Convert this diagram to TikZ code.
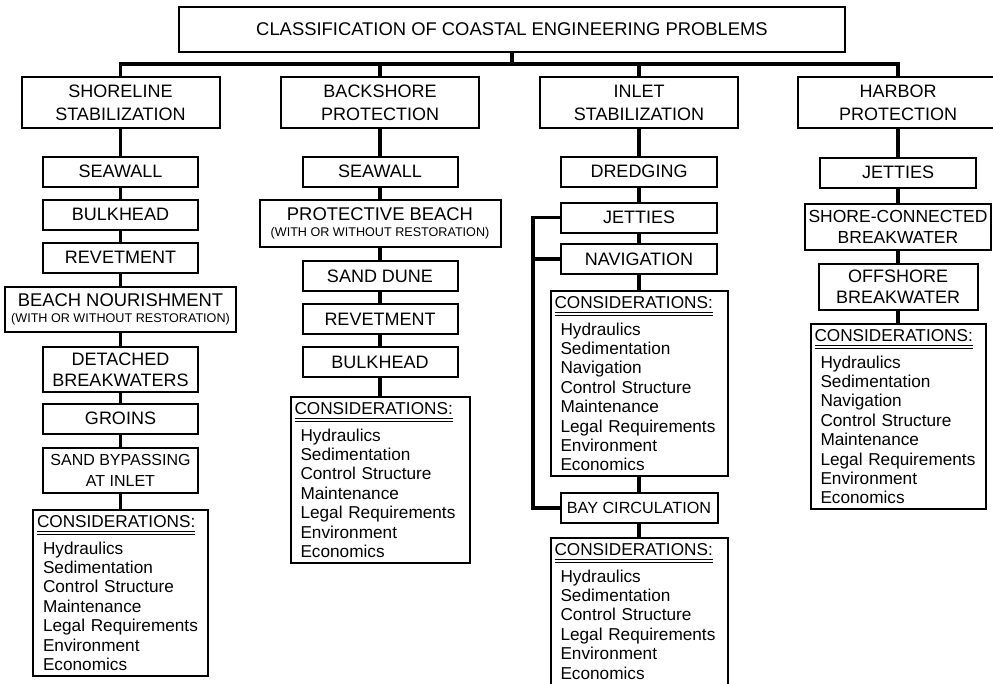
\documentclass[tikz,border=0pt]{standalone}
\usepackage{fontspec}
\setmainfont{Liberation Sans}
% double underline for the considerations header
\newcommand{\dbul}[1]{\setbox0=\hbox{#1}%
  \rlap{\smash{\rule[-4.6pt]{\wd0}{0.9pt}}}%
  \rlap{\smash{\rule[-8pt]{\wd0}{0.9pt}}}\box0}
\newcommand{\conshead}{\dbul{CONSIDERATIONS:}\\[7.6pt]\hspace*{6pt}}
\newcommand{\itm}{\\\hspace*{6pt}}

\begin{document}
\begin{tikzpicture}[x=1pt,y=-1pt,
  box/.style={draw,line width=2pt,align=center,inner sep=0pt},
  head/.style={box,minimum width=198pt,minimum height=51pt,
    font=\fontsize{18}{23}\selectfont},
  item/.style={box,minimum width=155pt,minimum height=30pt,
    font=\fontsize{18}{21}\selectfont},
  cons/.style={draw,line width=2pt,anchor=north,align=left,
    inner xsep=4pt,inner ysep=5pt,font=\fontsize{17.2}{19.4}\selectfont},
  link/.style={line width=3.2pt}]
  \useasboundingbox (0,0) rectangle (993,683);

  \node[box,minimum width=666pt,minimum height=45pt,
    font=\fontsize{18.4}{23}\selectfont] (top) at (512,29.5)
    {CLASSIFICATION OF COASTAL ENGINEERING PROBLEMS};
  \coordinate (bus) at (512,64);

  % shoreline stabilization
  \node[head] (shore) at (120.5,102.5) {SHORELINE\\STABILIZATION};
  \node[item] (s1) at (120.5,171.5) {SEAWALL};
  \node[item] (s2) at (120.5,214.5) {BULKHEAD};
  \node[item] (s3) at (120.5,257.5) {REVETMENT};
  \node[item,minimum width=231pt,minimum height=45pt,
    font=\fontsize{18.4}{15.5}\selectfont] (s4) at (120.5,309.5)
    {BEACH NOURISHMENT\\{\fontsize{12.6}{15.5}\selectfont(WITH OR WITHOUT RESTORATION)}};
  \node[item,minimum height=45pt] (s5) at (120.5,369.5) {DETACHED\\BREAKWATERS};
  \node[item] (s6) at (120.5,418.5) {GROINS};
  \node[item,minimum height=45pt,font=\fontsize{16}{21}\selectfont] (s7)
    at (120.5,470.5) {SAND BYPASSING\\AT INLET};
  \node[cons,text width=167pt] (s8) at (120.5,509) {\conshead Hydraulics\itm
    Sedimentation\itm Control Structure\itm Maintenance\itm
    Legal Requirements\itm Environment\itm Economics};

  % backshore protection
  \node[head] (back) at (380,102.5) {BACKSHORE\\PROTECTION};
  \node[item] (b1) at (380,171.5) {SEAWALL};
  \node[item,minimum width=241pt,minimum height=47pt,
    font=\fontsize{18.4}{15.5}\selectfont] (b2) at (380,223.5)
    {PROTECTIVE BEACH\\{\fontsize{12.6}{15.5}\selectfont(WITH OR WITHOUT RESTORATION)}};
  \node[item] (b3) at (380,276) {SAND DUNE};
  \node[item] (b4) at (380,319) {REVETMENT};
  \node[item] (b5) at (380,362) {BULKHEAD};
  \node[cons,text width=171pt] (b6) at (380,396) {\conshead Hydraulics\itm
    Sedimentation\itm Control Structure\itm Maintenance\itm
    Legal Requirements\itm Environment\itm Economics};

  % inlet stabilization
  \node[head] (inlet) at (639,102.5) {INLET\\STABILIZATION};
  \node[item,minimum width=156pt] (i1) at (639,171.5) {DREDGING};
  \node[item,minimum width=156pt] (i2) at (639,217.5) {JETTIES};
  \node[item,minimum width=156pt] (i3) at (639,259) {NAVIGATION};
  \node[cons,text width=169pt] (i4) at (639,290) {\conshead Hydraulics\itm
    Sedimentation\itm Navigation\itm Control Structure\itm Maintenance\itm
    Legal Requirements\itm Environment\itm Economics};
  \node[item,minimum width=157pt,font=\fontsize{16.2}{21}\selectfont] (i5)
    at (639,508) {BAY CIRCULATION};
  \node[cons,text width=169pt] (i6) at (639,537) {\conshead Hydraulics\itm
    Sedimentation\itm Control Structure\itm Legal Requirements\itm
    Environment\itm Economics\rule[-14pt]{0pt}{0pt}};
  \coordinate (rail) at (533,0);

  % harbor protection
  \node[head,minimum width=200pt] (harbor) at (898,102.5) {HARBOR\\PROTECTION};
  \node[item,minimum width=156pt] (h1) at (898,172.5) {JETTIES};
  \node[item,minimum width=186pt,minimum height=46pt,
    font=\fontsize{17.5}{21}\selectfont] (h2) at (898,227)
    {SHORE-CONNECTED\\BREAKWATER};
  \node[item,minimum width=159pt,minimum height=46pt] (h3) at (898,287)
    {OFFSHORE\\BREAKWATER};
  \node[cons,text width=167pt] (h4) at (898,323) {\conshead Hydraulics\itm
    Sedimentation\itm Navigation\itm Control Structure\itm Maintenance\itm
    Legal Requirements\itm Environment\itm Economics};

  % connectors
  \draw[link] (top) -- (top |- bus);
  \draw[link] (shore) |- (bus -| harbor) -- (harbor);
  \draw[link] (back) -- (back |- bus);
  \draw[link] (inlet) -- (inlet |- bus);

  \draw[link] (shore) -- (s1);
  \draw[link] (s1) -- (s2);
  \draw[link] (s2) -- (s3);
  \draw[link] (s3) -- (s4);
  \draw[link] (s4) -- (s5);
  \draw[link] (s5) -- (s6);
  \draw[link] (s6) -- (s7);
  \draw[link] (s7) -- (s8);

  \draw[link] (back) -- (b1);
  \draw[link] (b1) -- (b2);
  \draw[link] (b2) -- (b3);
  \draw[link] (b3) -- (b4);
  \draw[link] (b4) -- (b5);
  \draw[link] (b5) -- (b6);

  \draw[link] (inlet) -- (i1);
  \draw[link] (i1) -- (i2);
  \draw[link] (i2) -- (i3);
  \draw[link] (i3) -- (i4);
  \draw[link] (i4) -- (i5);
  \draw[link] (i5) -- (i6);
  \draw[link] (i2) -| (rail |- i5) -- (i5);
  \draw[link] (i3) -- (rail |- i3);

  \draw[link] (harbor) -- (h1);
  \draw[link] (h1) -- (h2);
  \draw[link] (h2) -- (h3);
  \draw[link] (h3) -- (h4);
\end{tikzpicture}
\end{document}
